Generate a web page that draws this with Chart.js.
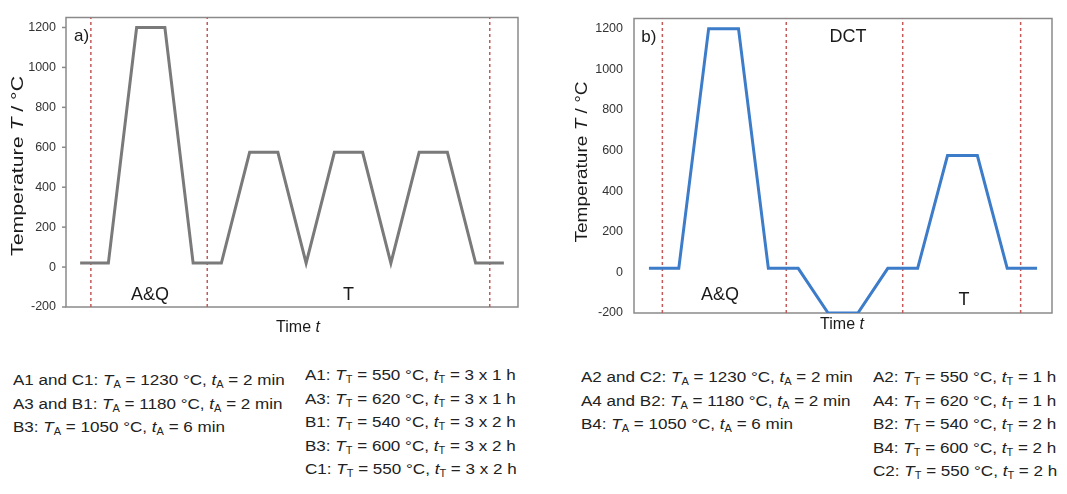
<!DOCTYPE html>
<html>
<head>
<meta charset="utf-8">
<script src="https://cdn.jsdelivr.net/npm/chart.js@4.4.0/dist/chart.umd.min.js"></script>
<style>
body { margin: 0; width: 1067px; height: 494px; background: #fff; position: relative; overflow: hidden; font-family: "Liberation Sans", Arial, sans-serif; }
.box { position: absolute; top: 0; height: 340px; }
#boxA { left: 0; width: 530px; }
#boxB { left: 540px; width: 527px; }
.notes { position: absolute; font-size: 15.5px; line-height: 23.5px; color: #222; white-space: nowrap; transform: scaleX(1.1); transform-origin: 0 0; }
.notes sub { font-size: 10px; line-height: 0; vertical-align: -3px; }
</style>
</head>
<body>
<div class="box" id="boxA"><canvas id="chartA"></canvas></div>
<div class="box" id="boxB"><canvas id="chartB"></canvas></div>

<div class="notes" style="left:13px; top:368px">
  <div>A1 and C1: <i>T</i><sub>A</sub> = 1230 °C, <i>t</i><sub>A</sub> = 2 min</div>
  <div>A3 and B1: <i>T</i><sub>A</sub> = 1180 °C, <i>t</i><sub>A</sub> = 2 min</div>
  <div>B3: <i>T</i><sub>A</sub> = 1050 °C, <i>t</i><sub>A</sub> = 6 min</div>
</div>
<div class="notes" style="left:305px; top:363px">
  <div>A1: <i>T</i><sub>T</sub> = 550 °C, <i>t</i><sub>T</sub> = 3 x 1 h</div>
  <div>A3: <i>T</i><sub>T</sub> = 620 °C, <i>t</i><sub>T</sub> = 3 x 1 h</div>
  <div>B1: <i>T</i><sub>T</sub> = 540 °C, <i>t</i><sub>T</sub> = 3 x 2 h</div>
  <div>B3: <i>T</i><sub>T</sub> = 600 °C, <i>t</i><sub>T</sub> = 3 x 2 h</div>
  <div>C1: <i>T</i><sub>T</sub> = 550 °C, <i>t</i><sub>T</sub> = 3 x 2 h</div>
</div>
<div class="notes" style="left:581px; top:365px">
  <div>A2 and C2: <i>T</i><sub>A</sub> = 1230 °C, <i>t</i><sub>A</sub> = 2 min</div>
  <div>A4 and B2: <i>T</i><sub>A</sub> = 1180 °C, <i>t</i><sub>A</sub> = 2 min</div>
  <div>B4: <i>T</i><sub>A</sub> = 1050 °C, <i>t</i><sub>A</sub> = 6 min</div>
</div>
<div class="notes" style="left:873px; top:365px">
  <div>A2: <i>T</i><sub>T</sub> = 550 °C, <i>t</i><sub>T</sub> = 1 h</div>
  <div>A4: <i>T</i><sub>T</sub> = 620 °C, <i>t</i><sub>T</sub> = 1 h</div>
  <div>B2: <i>T</i><sub>T</sub> = 540 °C, <i>t</i><sub>T</sub> = 2 h</div>
  <div>B4: <i>T</i><sub>T</sub> = 600 °C, <i>t</i><sub>T</sub> = 2 h</div>
  <div>C2: <i>T</i><sub>T</sub> = 550 °C, <i>t</i><sub>T</sub> = 2 h</div>
</div>

<script>
// a) anneal & quench + triple temper
const timeA = [0.5, 1.5, 2.5, 3.5, 4.5, 5.5, 6.5, 7.5, 8.5, 9.5, 10.5, 11.5, 12.5, 13.5, 14.5, 15.5];
const tempA = [20, 20, 1200, 1200, 20, 20, 575, 575, 20, 575, 575, 20, 575, 575, 20, 20];
const stagesA = [0.88, 5, 15];

// b) anneal & quench + deep cryo + single temper
const timeB = [0.5, 1.5, 2.5, 3.5, 4.5, 5.5, 6.5, 7.5, 8.5, 9.5, 10.5, 11.5, 12.5, 13.5];
const tempB = [20, 20, 1200, 1200, 20, 20, -200, -200, 20, 20, 575, 575, 20, 20];
const stagesB = [0.95, 5.1, 9.0, 12.95];

const yTicks = [-200, 0, 200, 400, 600, 800, 1000, 1200];
const Y_MIN = -200, Y_MAX = 1250;

const FONT = '"Liberation Sans", Arial, sans-serif';

function drawRich(ctx, parts, cx, cy, size, angle, stretch) {
    ctx.save();
    ctx.translate(cx, cy);
    ctx.rotate(angle);
    ctx.scale(stretch, 1);
    const fonts = parts.map(p => (p.i ? 'italic ' : '') + size + 'px ' + FONT);
    let w = 0;
    const widths = parts.map((p, k) => {
        ctx.font = fonts[k];
        const m = ctx.measureText(p.t).width;
        w += m;
        return m;
    });
    let xx = -w / 2;
    ctx.textBaseline = 'middle';
    ctx.textAlign = 'left';
    ctx.fillStyle = '#1a1a1a';
    parts.forEach((p, k) => {
        ctx.font = fonts[k];
        ctx.fillText(p.t, xx, 0);
        xx += widths[k];
    });
    ctx.restore();
}

const decor = {
    id: 'decor',
    beforeDatasetsDraw(chart, args, opts) {
        const {ctx, chartArea: a, scales: {y}} = chart;
        ctx.save();
        ctx.strokeStyle = '#8a8a8a';
        ctx.lineWidth = 1.5;
        ctx.strokeRect(a.left, a.top, a.right - a.left, a.bottom - a.top);
        if (opts.tickMarks) {
            yTicks.forEach(v => {
                const py = y.getPixelForValue(v);
                ctx.beginPath();
                ctx.moveTo(a.left - 4, py);
                ctx.lineTo(a.left, py);
                ctx.stroke();
            });
        }
        ctx.restore();
    },
    afterDraw(chart, args, opts) {
        const {ctx, scales: {x, y}} = chart;
        opts.labels.forEach(l => {
            drawRich(ctx, [{t: l.text}], x.getPixelForValue(l.x), y.getPixelForValue(l.y), l.size, 0, 1);
        });
        drawRich(ctx, [{t: 'Temperature '}, {t: 'T', i: true}, {t: ' / °C'}],
            opts.yTitleX, opts.yTitleY, 16, -Math.PI / 2, opts.yStretch);
        drawRich(ctx, [{t: 'Time '}, {t: 't', i: true}], opts.xTitleX, opts.xTitleY, 16, 0, 1);
    }
};

function makeChart(id, times, temps, stages, color, xMax, yWidth, pad, tickPad, extra) {
    const datasets = [{
        data: times.map((t, k) => ({x: t, y: temps[k]})),
        borderColor: color,
        borderWidth: 3,
        pointRadius: 0,
        showLine: true,
        order: 1
    }];
    stages.forEach(s => {
        datasets.push({
            data: [{x: s, y: Y_MIN}, {x: s, y: Y_MAX}],
            borderColor: '#c55a5a',
            borderWidth: 1.5,
            borderDash: [3, 3],
            pointRadius: 0,
            showLine: true,
            order: 2
        });
    });
    return new Chart(document.getElementById(id), {
        type: 'scatter',
        data: {datasets: datasets},
        options: {
            responsive: true,
            maintainAspectRatio: false,
            animation: false,
            events: [],
            layout: {padding: pad},
            plugins: {
                legend: {display: false},
                tooltip: {enabled: false},
                decor: extra
            },
            scales: {
                x: {type: 'linear', min: 0, max: xMax, display: false},
                y: {
                    min: Y_MIN,
                    max: Y_MAX,
                    afterBuildTicks: s => { s.ticks = yTicks.map(v => ({value: v})); },
                    afterFit: s => { s.width = yWidth; },
                    ticks: {
                        font: {size: 12.5, family: FONT},
                        color: '#333',
                        padding: tickPad,
                        callback: v => String(v)
                    },
                    grid: {display: false, drawTicks: false},
                    border: {display: false}
                }
            }
        },
        plugins: [decor]
    });
}

makeChart('chartA', timeA, tempA, stagesA, '#7a7a7a', 16, 66,
    {left: 0, top: 12.5, right: 12, bottom: 33}, 10, {
        tickMarks: true,
        labels: [
            {text: 'a)', x: 0.55, y: 1154, size: 17},
            {text: 'A&Q', x: 2.97, y: -139, size: 18},
            {text: 'T', x: 10.0, y: -139, size: 18}
        ],
        yTitleX: 18.8, yTitleY: 166, yStretch: 1.33,
        xTitleX: 298, xTitleY: 328
    });

makeChart('chartB', timeB, tempB, stagesB, '#3d7cc9', 14, 94,
    {left: 0, top: 12.4, right: 15, bottom: 27}, 11, {
        tickMarks: false,
        labels: [
            {text: 'b)', x: 0.5, y: 1157, size: 17},
            {text: 'DCT', x: 7.17, y: 1161, size: 18},
            {text: 'A&Q', x: 2.88, y: -110, size: 18},
            {text: 'T', x: 11.05, y: -136, size: 18}
        ],
        yTitleX: 42.5, yTitleY: 162, yStretch: 1.19,
        xTitleX: 302, xTitleY: 325
    });
</script>
</body>
</html>
